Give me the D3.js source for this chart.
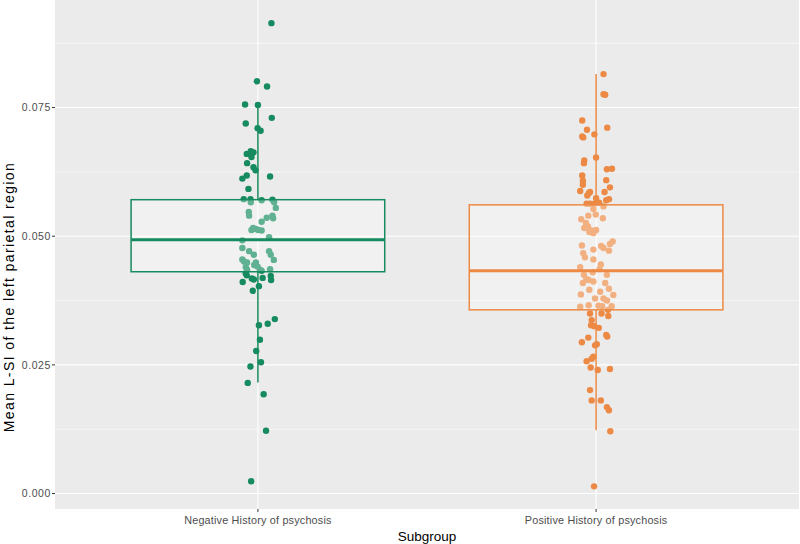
<!DOCTYPE html>
<html><head><meta charset="utf-8">
<script src="https://cdn.jsdelivr.net/npm/d3@7"></script>
<style>body{margin:0;background:#fff}svg{display:block}</style>
</head><body><svg id="c" width="800" height="544"></svg>
<script>
const categories = ["Negative History of psychosis", "Positive History of psychosis"];
const colors = ["#168b5f", "#ec8a45"];
const yTicks = [0, 0.025, 0.05, 0.075];
const yTickLabels = ["0.000", "0.025", "0.050", "0.075"];
// box stats: [lowerWhisker, q1, median, q3, upperWhisker]
const boxNeg = [0.0216, 0.0431, 0.0493, 0.0571, 0.0756];
const boxPos = [0.0123, 0.0357, 0.0433, 0.0561, 0.0815];
// jittered points: values and horizontal jitter (in category units)
const negValues = [0.0914,0.0801,0.0791,0.0756,0.0755,0.0730,0.0719,0.0710,0.0705,0.0665,0.0663,0.0660,0.0654,0.0642,0.0634,0.0628,0.0618,0.0612,0.0616,0.0592,0.0572,0.0572,0.0566,0.0570,0.0571,0.0566,0.0555,0.0547,0.0540,0.0540,0.0535,0.0536,0.0528,0.0516,0.0514,0.0512,0.0511,0.0512,0.0498,0.0492,0.0477,0.0471,0.0464,0.0471,0.0464,0.0454,0.0455,0.0451,0.0449,0.0449,0.0444,0.0441,0.0440,0.0435,0.0435,0.0436,0.0433,0.0428,0.0424,0.0423,0.0418,0.0416,0.0419,0.0415,0.0411,0.0403,0.0394,0.0339,0.0330,0.0327,0.0299,0.0277,0.0255,0.0247,0.0215,0.0193,0.0122,0.0024];
const negJitter = [0.040,-0.003,0.027,-0.038,0.000,0.041,-0.036,-0.001,0.008,-0.021,-0.013,-0.033,-0.019,-0.032,-0.013,-0.007,-0.033,-0.046,0.036,-0.028,-0.042,-0.022,-0.021,0.011,0.043,0.048,0.053,-0.027,-0.026,0.043,0.045,0.026,0.011,-0.014,-0.006,0.001,0.011,-0.019,0.033,-0.046,-0.046,-0.026,-0.012,0.033,0.038,0.047,-0.046,-0.041,-0.032,-0.006,-0.011,-0.001,-0.036,-0.032,0.006,0.036,0.011,-0.036,-0.033,0.038,-0.018,-0.012,0.014,0.039,-0.045,0.003,-0.015,0.050,0.029,0.003,0.006,-0.005,0.009,-0.022,-0.030,0.017,0.024,-0.020];
const posValues = [0.0815,0.0776,0.0775,0.0725,0.0711,0.0707,0.0694,0.0692,0.0698,0.0653,0.0647,0.0642,0.0630,0.0631,0.0618,0.0608,0.0600,0.0609,0.0595,0.0588,0.0586,0.0579,0.0584,0.0586,0.0574,0.0572,0.0570,0.0563,0.0563,0.0563,0.0565,0.0558,0.0553,0.0540,0.0542,0.0535,0.0533,0.0526,0.0519,0.0516,0.0511,0.0506,0.0512,0.0508,0.0482,0.0481,0.0477,0.0490,0.0485,0.0472,0.0474,0.0467,0.0459,0.0455,0.0445,0.0440,0.0436,0.0425,0.0430,0.0425,0.0415,0.0412,0.0409,0.0417,0.0409,0.0398,0.0396,0.0392,0.0387,0.0386,0.0379,0.0379,0.0375,0.0363,0.0366,0.0365,0.0364,0.0364,0.0357,0.0350,0.0350,0.0345,0.0337,0.0325,0.0327,0.0322,0.0308,0.0305,0.0303,0.0294,0.0288,0.0290,0.0266,0.0262,0.0257,0.0245,0.0240,0.0242,0.0201,0.0181,0.0181,0.0168,0.0162,0.0121,0.0014];
const posJitter = [0.022,0.022,0.027,-0.041,0.033,-0.027,-0.041,-0.038,-0.005,0.000,-0.035,-0.036,0.032,0.047,-0.041,-0.039,-0.039,0.030,0.041,-0.047,-0.018,-0.026,-0.021,0.025,0.000,0.038,0.030,-0.028,-0.018,-0.005,0.009,0.022,-0.008,-0.023,-0.001,0.020,-0.044,-0.030,-0.024,-0.035,-0.015,-0.008,0.000,-0.020,-0.042,0.015,0.022,0.049,0.041,0.038,-0.008,-0.038,-0.033,-0.008,0.014,-0.047,0.010,0.032,-0.010,-0.036,-0.022,-0.008,-0.039,-0.029,0.027,0.038,-0.020,0.012,-0.045,0.051,-0.003,0.022,0.032,-0.047,-0.022,0.007,0.018,0.046,0.035,0.016,-0.018,0.036,-0.013,-0.005,-0.015,0.008,0.030,0.033,-0.023,-0.042,-0.003,0.002,-0.008,-0.013,-0.028,-0.016,0.005,0.041,-0.018,-0.013,0.014,0.032,0.038,0.042,-0.006];

const svg = d3.select("#c");
const P = {l: 55, r: 799, t: 0, b: 509};
const x = d3.scaleLinear().domain([0.4, 2.6]).range([P.l, P.r]);
const y = d3.scaleLinear().domain([-0.003, 0.0959]).range([P.b, P.t]);

svg.append("rect").attr("x", P.l).attr("y", P.t).attr("width", P.r - P.l).attr("height", P.b - P.t).attr("fill", "#ebebeb");
const g = svg.append("g");
const minor = [0.0125, 0.0375, 0.0625, 0.0875];
g.selectAll(".mn").data(minor).join("line").attr("x1", P.l).attr("x2", P.r)
  .attr("y1", d => y(d)).attr("y2", d => y(d)).attr("stroke", "#fff").attr("stroke-width", 0.55);
g.selectAll(".mj").data(yTicks).join("line").attr("x1", P.l).attr("x2", P.r)
  .attr("y1", d => y(d)).attr("y2", d => y(d)).attr("stroke", "#fff").attr("stroke-width", 1.1);
g.selectAll(".vx").data([1, 2]).join("line").attr("x1", d => x(d)).attr("x2", d => x(d))
  .attr("y1", P.t).attr("y2", P.b).attr("stroke", "#fff").attr("stroke-width", 1.1);

const groups = [
  {i: 1, vals: negValues, jit: negJitter, box: boxNeg, col: colors[0]},
  {i: 2, vals: posValues, jit: posJitter, box: boxPos, col: colors[1]}
];
groups.forEach(gr => {
  const pts = gr.vals.map((v, k) => ({v, j: gr.jit[k]}));
  g.append("g").selectAll("circle").data(pts).join("circle")
    .attr("cx", d => x(gr.i + d.j)).attr("cy", d => y(d.v)).attr("r", 3.2).attr("fill", gr.col);
});
groups.forEach(gr => {
  const [lo, q1, med, q3, hi] = gr.box;
  const bg = g.append("g");
  bg.append("line").attr("x1", x(gr.i)).attr("x2", x(gr.i)).attr("y1", y(hi)).attr("y2", y(q3)).attr("stroke", gr.col).attr("stroke-width", 1.5);
  bg.append("line").attr("x1", x(gr.i)).attr("x2", x(gr.i)).attr("y1", y(q1)).attr("y2", y(lo)).attr("stroke", gr.col).attr("stroke-width", 1.5);
  bg.append("rect").attr("x", x(gr.i - 0.375)).attr("width", x(gr.i + 0.375) - x(gr.i - 0.375))
    .attr("y", y(q3)).attr("height", y(q1) - y(q3)).attr("fill", "#ffffff").attr("fill-opacity", 0.32)
    .attr("stroke", gr.col).attr("stroke-width", 1.5);
  bg.append("line").attr("x1", x(gr.i - 0.375)).attr("x2", x(gr.i + 0.375)).attr("y1", y(med)).attr("y2", y(med))
    .attr("stroke", gr.col).attr("stroke-width", 3);
});

const font = "'Liberation Sans', Arial, sans-serif";
const ya = svg.append("g");
yTicks.forEach((t, k) => {
  ya.append("line").attr("x1", P.l - 3).attr("x2", P.l).attr("y1", y(t)).attr("y2", y(t)).attr("stroke", "#333").attr("stroke-width", 1);
  ya.append("text").attr("x", P.l - 4).attr("y", y(t)).attr("dy", "0.35em").attr("text-anchor", "end")
    .attr("font-family", font).attr("font-size", 10.5).attr("letter-spacing", 0.6).attr("fill", "#4d4d4d").text(yTickLabels[k]);
});
categories.forEach((c, k) => {
  ya.append("line").attr("x1", x(k + 1)).attr("x2", x(k + 1)).attr("y1", P.b).attr("y2", P.b + 3).attr("stroke", "#333").attr("stroke-width", 1);
  ya.append("text").attr("x", x(k + 1)).attr("y", P.b + 15).attr("text-anchor", "middle")
    .attr("font-family", font).attr("font-size", 10.8).attr("letter-spacing", 0.2).attr("fill", "#4d4d4d").text(c);
});
svg.append("text").attr("x", (P.l + P.r) / 2).attr("y", 541).attr("text-anchor", "middle")
  .attr("font-family", font).attr("font-size", 13.5).attr("fill", "#000").text("Subgroup");
svg.append("text").attr("transform", `translate(14,297) rotate(-90)`).attr("text-anchor", "middle")
  .attr("font-family", font).attr("font-size", 14).attr("letter-spacing", 1.4).attr("fill", "#000").text("Mean L-SI of the left parietal region");
</script></body></html>
